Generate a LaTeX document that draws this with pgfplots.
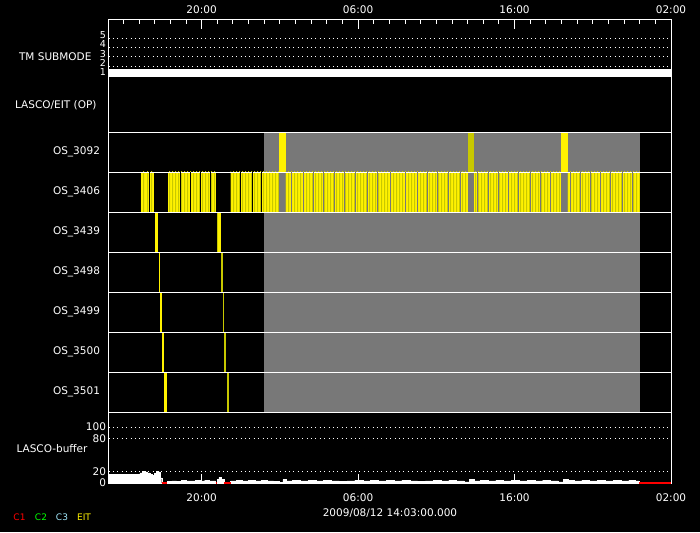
\documentclass[border=0pt]{standalone}
\usepackage{pgfplots}
\pgfplotsset{compat=1.18}
\usepackage{fontspec}
\setmainfont{DejaVu Sans}
\usetikzlibrary{patterns.meta}

\definecolor{ygold}{RGB}{200,200,0}
\definecolor{pgray}{RGB}{120,120,120}
\definecolor{cthree}{RGB}{160,230,250}

\newcommand\lab{\fontsize{10.5}{12}\selectfont}
\newcommand\smalllab{\fontsize{9}{10}\selectfont}

% yellow/olive stripes of the OS_3406 row
\tikzdeclarepattern{
  name=eitstripes,
  type=uncolored,
  bottom left={(0pt,0pt)},
  top right={(3.4pt,3.4pt)},
  tile size={(3.4pt,3.4pt)},
  code={\fill (0pt,0pt) rectangle (1.3pt,3.4pt);}
}

\pgfplotsset{
  panel/.style={
    scale only axis, width=562.5pt, anchor=south west,
    xmin=14.05, xmax=50,
    axis line style={white, line width=0.8pt},
    tick label style={white, font=\lab},
    /pgf/number format/assume math mode=true,
  },
  dotgrid/.style={white, line width=0.8pt, dash pattern=on 0.8pt off 3.6pt},
}

\begin{document}
\begin{tikzpicture}
\fill[black] (0pt,0pt) rectangle (700pt,532pt);

% outer frame with the time ticks on top
\begin{axis}[panel, at={(108.5pt,49pt)}, height=463.5pt,
  ymin=0, ymax=1, ytick=\empty,
  xtick={20,30,40,50}, xticklabels={20:00,06:00,16:00,02:00},
  minor xtick={15,...,49},
  xtick pos=right, xticklabel pos=right,
  tick align=inside, major tick length=10pt, minor tick length=5pt,
  tick style={white, line width=0.8pt},
  xticklabel style={yshift=2pt}]
\end{axis}

% TM SUBMODE
\begin{axis}[panel, at={(108.5pt,455pt)}, height=57.5pt,
  ymin=0.82, ymax=6.98, axis line style={draw=none},
  xtick=\empty, ytick={1,...,5},
  major tick length=0pt, ymajorgrids, grid style={dotgrid},
  yticklabel style={font=\fontsize{9.5}{10}\selectfont, yshift=3pt, xshift=1pt}]
\addplot[draw=none, fill=white] coordinates {(14.05,0.82) (14.05,1.68) (50,1.68) (50,0.82)};
\end{axis}

% OS rows
\begin{axis}[panel, at={(108.5pt,120pt)}, height=280pt,
  ymin=0, ymax=7, axis on top,
  xtick=\empty,
  ytick={0.5,1.5,...,6.5},
  yticklabels={OS\_3501,OS\_3500,OS\_3499,OS\_3498,OS\_3439,OS\_3406,OS\_3092},
  major tick length=0pt, yticklabel style={xshift=-5pt},
  extra y ticks={1,...,6}, extra y tick labels={},
  extra y tick style={grid=major, major grid style={white, line width=0.8pt}}]
% no-data period
\addplot[draw=none, fill=pgray] coordinates {(24,0) (24,7) (48,7) (48,0)};
% OS_3092
\addplot[draw=none, fill=yellow] coordinates {(24.95,6) (24.95,7) (25.37,7) (25.37,6)};
\addplot[draw=none, fill=ygold]  coordinates {(37.0,6) (37.0,7) (37.38,7) (37.38,6)};
\addplot[draw=none, fill=yellow] coordinates {(42.94,6) (42.94,7) (43.39,7) (43.39,6)};
% OS_3406
\addplot[draw=none, fill=yellow, postaction={pattern=eitstripes, pattern color=ygold}] coordinates {(16.10,5) (16.10,6) (16.95,6) (16.95,5)};
\addplot[draw=none, fill=yellow, postaction={pattern=eitstripes, pattern color=ygold}] coordinates {(17.85,5) (17.85,6) (20.89,6) (20.89,5)};
\addplot[draw=none, fill=yellow, postaction={pattern=eitstripes, pattern color=ygold}] coordinates {(21.85,5) (21.85,6) (24.95,6) (24.95,5)};
\addplot[draw=none, fill=yellow, postaction={pattern=eitstripes, pattern color=ygold}] coordinates {(25.37,5) (25.37,6) (37.0,6) (37.0,5)};
\addplot[draw=none, fill=yellow, postaction={pattern=eitstripes, pattern color=ygold}] coordinates {(37.38,5) (37.38,6) (42.94,6) (42.94,5)};
\addplot[draw=none, fill=yellow, postaction={pattern=eitstripes, pattern color=ygold}] coordinates {(43.39,5) (43.39,6) (47.99,6) (47.99,5)};
\addplot[only marks, mark=|, mark size=20pt, mark options={black, line width=1pt}] coordinates {
  (16.65,5.5) (18.62,5.5) (19.30,5.5) (19.94,5.5) (20.58,5.5) (22.49,5.5) (23.26,5.5) (23.85,5.5)};
\addplot[only marks, mark=|, mark size=20pt, mark options={pgray, line width=1pt}] coordinates {
  (25.73,5.5) (26.50,5.5) (27.16,5.5) (27.80,5.5) (28.50,5.5) (29.14,5.5) (29.84,5.5) (30.61,5.5)
  (31.25,5.5) (32.08,5.5) (33.04,5.5) (33.80,5.5) (34.44,5.5) (35.08,5.5) (35.78,5.5) (36.55,5.5)
  (37.64,5.5) (38.34,5.5) (38.98,5.5) (39.62,5.5) (40.26,5.5) (41.02,5.5) (41.66,5.5) (42.30,5.5)
  (43.58,5.5) (44.22,5.5) (44.86,5.5) (45.50,5.5) (46.13,5.5) (46.90,5.5) (47.54,5.5)};
% OS_3439
\addplot[draw=none, fill=yellow] coordinates {(17.00,4) (17.00,5) (17.19,5) (17.19,4)};
\addplot[draw=none, fill=ygold]  coordinates {(20.96,4) (20.96,5) (21.05,5) (21.05,4)};
\addplot[draw=none, fill=yellow] coordinates {(21.05,4) (21.05,5) (21.21,5) (21.21,4)};
% OS_3498
\addplot[draw=none, fill=yellow] coordinates {(17.25,3) (17.25,4) (17.34,4) (17.34,3)};
\addplot[draw=none, fill=ygold]  coordinates {(21.21,3) (21.21,4) (21.34,4) (21.34,3)};
% OS_3499
\addplot[draw=none, fill=yellow] coordinates {(17.32,2) (17.32,3) (17.44,3) (17.44,2)};
\addplot[draw=none, fill=ygold]  coordinates {(21.34,2) (21.34,3) (21.41,3) (21.41,2)};
% OS_3500
\addplot[draw=none, fill=yellow] coordinates {(17.44,1) (17.44,2) (17.57,2) (17.57,1)};
\addplot[draw=none, fill=ygold]  coordinates {(21.41,1) (21.41,2) (21.53,2) (21.53,1)};
% OS_3501
\addplot[draw=none, fill=yellow] coordinates {(17.57,0) (17.57,1) (17.76,1) (17.76,0)};
\addplot[draw=none, fill=ygold]  coordinates {(21.60,0) (21.60,1) (21.73,1) (21.73,0)};
\end{axis}

% LASCO buffer
\begin{axis}[panel, at={(108.5pt,49pt)}, height=71pt,
  ymin=0, ymax=126.8, clip=false,
  ytick={0,20,80,100}, ymajorgrids, grid style={dotgrid},
  xtick={20,30,40,50}, xticklabels={20:00,06:00,16:00,02:00},
  xtick pos=left, xticklabel pos=left, ytick pos=left,
  tick align=inside, major tick length=9pt,
  x tick style={white, line width=0.8pt}, y tick style={draw=none},
  xticklabel style={yshift=-7pt}, yticklabel style={xshift=1pt}]
\addplot[const plot, fill=white, draw=white, line width=0.4pt] coordinates {
  (14.05,16) (15.9,16) (16.05,18) (16.2,21) (16.4,20) (16.55,18) (16.7,16) (16.85,14)
  (17.0,17) (17.1,21) (17.25,20) (17.35,9) (17.45,0) (17.8,3) (18.1,4) (18.4,3)
  (18.7,5) (19.0,4) (19.3,4) (19.6,5) (19.9,4) (20.2,5) (20.5,4) (20.9,0)
  (21.0,7) (21.1,10) (21.25,6) (21.45,0) (21.85,4) (22.2,5) (22.6,4) (23.0,5)
  (23.4,4) (23.8,5) (24.2,4) (24.6,3) (24.95,1) (25.2,6) (25.4,4) (25.8,5)
  (26.3,4) (26.8,5) (27.3,4) (27.8,5) (28.3,4) (28.8,3) (29.3,4) (29.8,5)
  (30.3,4) (30.8,5) (31.3,4) (31.8,5) (32.3,4) (32.8,5) (33.3,4) (33.8,3)
  (34.3,4) (34.8,5) (35.3,4) (35.8,5) (36.3,4) (36.8,2) (37.1,6) (37.4,4)
  (37.8,5) (38.3,4) (38.8,5) (39.3,4) (39.8,5) (40.3,4) (40.8,5) (41.3,4)
  (41.8,5) (42.3,4) (42.8,2) (43.1,6) (43.4,5) (43.8,4) (44.3,5) (44.8,4)
  (45.3,5) (45.8,4) (46.3,5) (46.8,4) (47.3,5) (47.7,4) (47.95,0) (50,0)} \closedcycle;
\addplot[red, line width=1.2pt] coordinates {(17.45,0) (17.8,0)};
\addplot[red, line width=1.2pt] coordinates {(20.9,0) (21.0,0)};
\addplot[red, line width=1.2pt] coordinates {(21.45,0) (21.85,0)};
\addplot[red, line width=1.2pt] coordinates {(47.95,0) (50,0)};
\end{axis}

% panel titles and footer
\node[anchor=east, white, font=\lab] at (95pt,475pt) {TM SUBMODE};
\node[anchor=east, white, font=\lab] at (100pt,427pt) {LASCO/EIT (OP)};
\node[anchor=east, white, font=\lab] at (91pt,83pt) {LASCO-buffer};
\node[white, font=\lab] at (390pt,19pt) {2009/08/12 14:03:00.000};
\node[red, font=\smalllab] at (19.5pt,15pt) {C1};
\node[green, font=\smalllab] at (41pt,15pt) {C2};
\node[cthree, font=\smalllab] at (62pt,15pt) {C3};
\node[yellow, font=\smalllab] at (84pt,15pt) {EIT};
\end{tikzpicture}
\end{document}
